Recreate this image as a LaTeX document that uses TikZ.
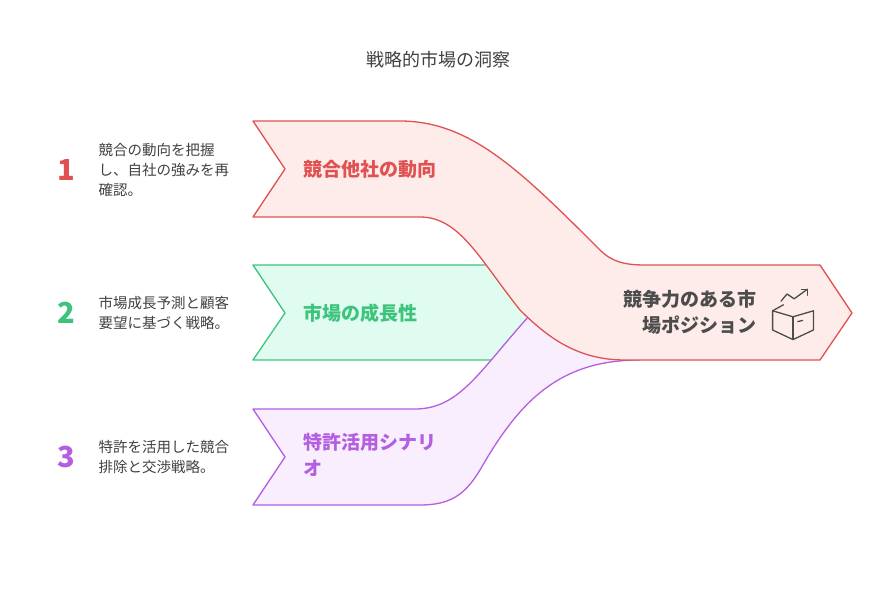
\documentclass[tikz,border=0pt]{standalone}
\usepackage{fontspec}
\setmainfont{Noto Sans CJK JP}
\begin{document}
\begin{tikzpicture}[x=1pt,y=-1pt,
  band/.style={line width=1.3pt, line join=round},
  num/.style={font=\bfseries\fontsize{29}{29}\selectfont},
  desc/.style={anchor=west, align=left, text=black!75, font=\fontsize{14.5}{20}\selectfont},
  lbl/.style={anchor=west, align=left, font=\bfseries\fontsize{19}{26}\selectfont}
  ]
	\definecolor{redline}{HTML}{E05252}
	\definecolor{redfill}{HTML}{FDECEA}
	\definecolor{greenline}{HTML}{3CC47C}
	\definecolor{greenfill}{HTML}{E0FBEF}
	\definecolor{purpleline}{HTML}{B45EE0}
	\definecolor{purplefill}{HTML}{F8EEFD}
	\useasboundingbox (0,0) rectangle (879,602);

	\node[text=black!75] (title) at (438,60) {\fontsize{18}{20}\selectfont 戦略的市場の洞察};

	% green band
	\fill[greenfill] (253,265) -- (495,265) -- (535,315) -- (495,360) -- (253,360) -- (285,313) -- cycle;
	\draw[band, draw=greenline] (495,265) -- (253,265) -- (285,313) -- (253,360) -- (495,360);
	% purple band
	\draw[band, draw=purpleline, fill=purplefill] (253,409) -- (415,409)
	  .. controls (460,409) and (480,370) .. (530,315) -- (640,360)
	  .. controls (560,360) and (520,400) .. (480,470)
	  .. controls (465,495) and (450,505) .. (420,505) -- (253,505) -- (285,457) -- cycle;
	% red band
	\draw[band, draw=redline, fill=redfill] (253,121) -- (400,121)
	  .. controls (470,121) and (520,170) .. (600,250)
	  .. controls (612,262) and (625,265) .. (645,265) -- (820,265) -- (852,313)
	  -- (820,360) -- (625,360)
	  .. controls (580,360) and (550,340) .. (520,310)
	  .. controls (480,260) and (460,217) .. (420,217) -- (253,217) -- (285,169) -- cycle;

	\node[num, text=redline] (n1) at (66,170) {1};
	\node[num, text=greenline] (n2) at (66,313) {2};
	\node[num, text=purpleline] (n3) at (66,457) {3};

	\node[desc] (d1) at (95,170) {競合の動向を把握\\し、自社の強みを再\\確認。};
	\node[desc] (d2) at (95,313) {市場成長予測と顧客\\要望に基づく戦略。};
	\node[desc] (d3) at (95,457) {特許を活用した競合\\排除と交渉戦略。};

	\node[lbl, text=redline] (l1) at (300,169) {競合他社の動向};
	\node[lbl, text=greenline] (l2) at (300,313) {市場の成長性};
	\node[lbl, text=purpleline] (l3) at (300,455) {特許活用シナリ\\オ};

	\node[anchor=east, align=right, text=black!70, font=\bfseries\fontsize{19}{26}\selectfont] (goal) at (760,312) {競争力のある市\\場ポジション};

	% icon
	\begin{scope}[shift={(793,318)}, scale=1.2, line width=1.3pt, draw=black!70, line join=round, line cap=round]
	  \draw (-17,-6) -- (-17,10) -- (0,18) -- (17,10) -- (17,-6) -- (0,-1) -- cycle;
	  \draw (0,-1) -- (0,18);
	  \draw (-17,-6) -- (-8,-11);
	  \draw (4,3) -- (8,2);
	  \draw (-10,-14) -- (-5,-20) -- (1,-16) -- (12,-24);
	  \draw (7,-24) -- (12,-24) -- (12,-19);
	\end{scope}
\end{tikzpicture}
\end{document}
